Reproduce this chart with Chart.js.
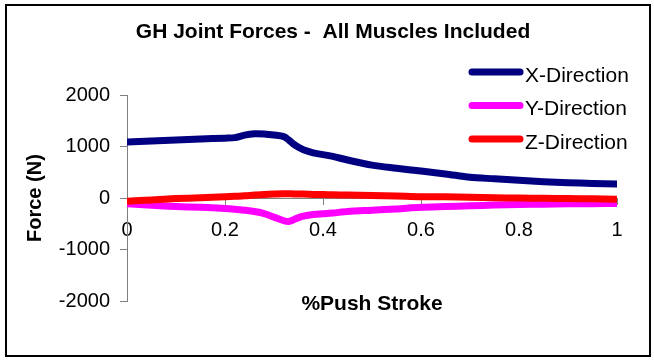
<!DOCTYPE html>
<html>
<head>
<meta charset="utf-8">
<script src="https://cdn.jsdelivr.net/npm/chart.js@4.4.1/dist/chart.umd.min.js"></script>
<style>
  html, body { margin: 0; padding: 0; background: #fff; }
  #wrap { width: 654px; height: 360px; }
</style>
</head>
<body>
<div id="wrap"><canvas id="chart" width="654" height="360"></canvas></div>
<script>
// % of push stroke (0..1)
const pushStroke = [0, 0.05, 0.1, 0.15, 0.2, 0.22, 0.24, 0.26, 0.28, 0.3, 0.32, 0.33, 0.34, 0.35, 0.36, 0.38,
    0.4, 0.42, 0.45, 0.5, 0.55, 0.6, 0.65, 0.7, 0.75, 0.8, 0.85, 0.9, 0.95, 1];
const xDirection = [1090, 1110, 1130, 1150, 1165, 1175, 1225, 1250, 1245, 1225, 1195, 1130, 1050, 990, 940, 880,
    845, 810, 740, 640, 580, 525, 470, 405, 375, 345, 320, 300, 285, 275];
const yDirection = [-110, -140, -165, -180, -200, -215, -235, -260, -300, -370, -440, -455, -420, -380, -350, -320,
    -305, -290, -260, -235, -210, -180, -165, -150, -135, -125, -118, -112, -108, -105];
const zDirection = [-60, -35, -10, 5, 25, 35, 45, 60, 70, 78, 85, 85, 82, 80, 78, 72,
    68, 65, 60, 52, 40, 25, 25, 15, 8, 0, -5, -10, -15, -20];
const seriesNames = ["X-Direction", "Y-Direction", "Z-Direction"];
const seriesColors = ["#000080", "#FF00FF", "#FF0000"];
const xTicks = [0, 0.2, 0.4, 0.6, 0.8, 1];
const yTicks = [-2000, -1000, 0, 1000, 2000];

const FONT = "'Liberation Sans', Arial, sans-serif";

function toPoints(values) {
    return values.map((v, i) => ({ x: pushStroke[i], y: v }));
}

// frame round the whole picture
const framePlugin = {
    id: "frame",
    beforeDraw(chart) {
        const ctx = chart.ctx;
        ctx.save();
        ctx.fillStyle = "#fff";
        ctx.fillRect(0, 0, chart.width, chart.height);
        ctx.strokeStyle = "#000";
        ctx.lineWidth = 2;
        ctx.strokeRect(6, 5, 644, 351);
        ctx.restore();
    }
};

// legend drawn over the top right of the plot, like the original
const legendPlugin = {
    id: "sideLegend",
    afterDraw(chart) {
        const ctx = chart.ctx;
        ctx.save();
        ctx.font = "21px " + FONT;
        ctx.textBaseline = "middle";
        ctx.textAlign = "left";
        chart.data.datasets.forEach((ds, i) => {
            const y = 72 + i * 33.5;
            ctx.strokeStyle = ds.borderColor;
            ctx.lineWidth = 7;
            ctx.lineCap = "round";
            ctx.beginPath();
            ctx.moveTo(472, y);
            ctx.lineTo(520, y);
            ctx.stroke();
            ctx.fillStyle = "#000";
            ctx.fillText(ds.label, 525, y + 4);
        });
        ctx.restore();
    }
};

const datasets = [xDirection, yDirection, zDirection].map((vals, i) => ({
    label: seriesNames[i],
    data: toPoints(vals),
    xAxisID: "x",
    yAxisID: "y",
    borderColor: seriesColors[i],
    backgroundColor: seriesColors[i],
    borderWidth: 7,
    borderCapStyle: "round",
    borderJoinStyle: "round",
    pointRadius: 0,
    tension: 0.3,
    order: 2 - i
}));

new Chart(document.getElementById("chart"), {
    type: "line",
    data: { datasets },
    options: {
        responsive: false,
        animation: false,
        layout: { padding: { left: 12, right: 0, top: 0, bottom: 0 } },
        plugins: {
            legend: { display: false },
            tooltip: { enabled: false },
            title: {
                display: true,
                text: "GH Joint Forces -  All Muscles Included",
                color: "#000",
                font: { family: FONT, size: 21, weight: "bold" },
                padding: { top: 20, bottom: 50 }
            }
        },
        scales: {
            x: {
                type: "linear",
                min: 0,
                max: 1,
                position: { y: 0 },
                afterBuildTicks: (s) => { s.ticks = xTicks.map(v => ({ value: v })); },
                ticks: {
                    color: "#000",
                    font: { family: FONT, size: 20 },
                    padding: 14,
                    maxRotation: 0,
                    callback: (v) => String(v)
                },
                grid: { drawOnChartArea: false, drawTicks: true, tickLength: 6, color: "#808080" },
                border: { color: "#808080", width: 1 }
            },
            y: {
                min: -2000,
                max: 2000,
                afterBuildTicks: (s) => { s.ticks = yTicks.map(v => ({ value: v })); },
                ticks: {
                    color: "#000",
                    font: { family: FONT, size: 20 },
                    padding: 10,
                    callback: (v) => String(v)
                },
                grid: { drawOnChartArea: false, drawTicks: true, tickLength: 7, color: "#808080" },
                border: { color: "#808080", width: 1 },
                title: {
                    display: true,
                    text: "Force (N)",
                    color: "#000",
                    font: { family: FONT, size: 20, weight: "bold" },
                    padding: { top: 11, bottom: 0 }
                },
                afterFit: (s) => { s.width = 115; }
            },
            xTitle: {
                type: "linear",
                position: "bottom",
                min: 0,
                max: 1,
                ticks: { display: false },
                grid: { display: false },
                border: { display: false },
                title: {
                    display: true,
                    text: "%Push Stroke",
                    color: "#000",
                    font: { family: FONT, size: 21, weight: "bold" },
                    padding: { top: 0, bottom: 43 }
                },
                afterFit: (s) => { s.height = 59; }
            },
            // empty axis on the right only keeps room beside the plot
            yRight: {
                type: "linear",
                position: "right",
                min: 0,
                max: 1,
                ticks: { display: false },
                grid: { display: false },
                border: { display: false },
                afterFit: (s) => { s.width = 37; }
            }
        }
    },
    plugins: [framePlugin, legendPlugin]
});
</script>
</body>
</html>
